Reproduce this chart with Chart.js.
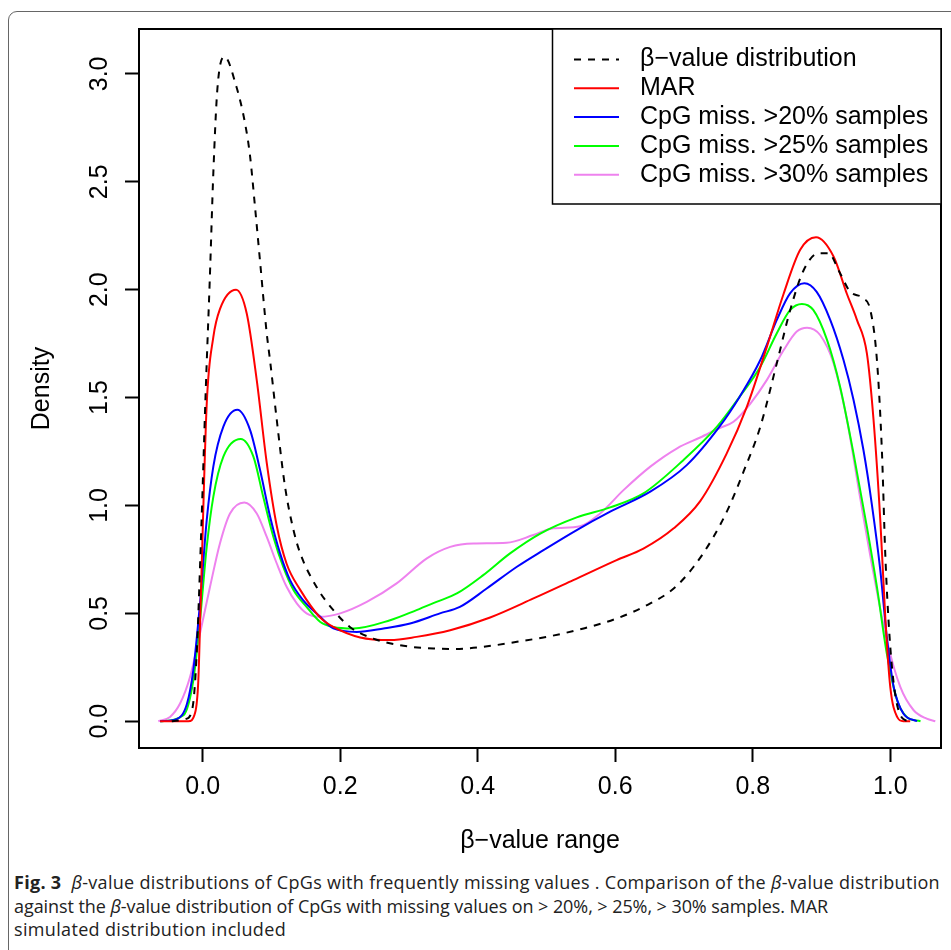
<!DOCTYPE html>
<html>
<head>
<meta charset="utf-8">
<script src="https://cdn.jsdelivr.net/npm/chart.js@4.4.1/dist/chart.umd.min.js"></script>
<style>
  body { margin: 0; background: #fff; width: 951px; height: 950px; overflow: hidden; position: relative; }
  #frame { position: absolute; left: 8px; top: 11px; width: 990px; height: 1000px; border: 1px solid #666; border-radius: 9px; }
  #wrap { position: absolute; left: 0; top: 0; width: 951px; height: 870px; }
  #caption { position: absolute; left: 14px; top: 871px; font-family: "Open Sans"; font-size: 18px; line-height: 23.5px; color: #222; white-space: nowrap; }
  #caption .ln { display: inline-block; }
</style>
</head>
<body>
<div id="frame"></div>
<div id="wrap"><canvas id="densityChart" width="951" height="870"></canvas></div>
<div id="caption">
  <span class="ln" data-w="926"><b>Fig. 3</b>&nbsp; <i>β</i>-value distributions of CpGs with frequently missing values . Comparison of the <i>β</i>-value distribution</span><br>
  <span class="ln" data-w="814">against the <i>β</i>-value distribution of CpGs with missing values on &gt; 20%, &gt; 25%, &gt; 30% samples. MAR</span><br>
  <span class="ln" data-w="272">simulated distribution included</span>
</div>
<script>
// axis ticks
const xTicks = [0, 0.2, 0.4, 0.6, 0.8, 1.0];
const yTicks = [0, 0.5, 1.0, 1.5, 2.0, 2.5, 3.0];

// beta-value distribution (dashed)
const betaX = [-0.045, -0.025, -0.015, -0.009, -0.002, 0.004, 0.0106, 0.0154, 0.0213, 0.0315, 0.049, 0.0616, 0.0688, 0.076, 0.0834, 0.093, 0.098, 0.1077, 0.1197, 0.132, 0.1416, 0.166, 0.19, 0.214, 0.248, 0.287, 0.3355, 0.3646, 0.408, 0.457, 0.505, 0.554, 0.602, 0.651, 0.685, 0.714, 0.743, 0.765, 0.787, 0.811, 0.835, 0.8545, 0.874, 0.8957, 0.91, 0.927, 0.9418, 0.961, 0.971, 0.9806, 0.988, 0.9927, 0.999, 1.007, 1.019, 1.03];
const betaY = [0, 0.01, 0.06, 0.3, 0.9, 1.5, 2.08, 2.54, 2.93, 3.08, 2.94, 2.77, 2.62, 2.385, 2.13, 1.8, 1.67, 1.396, 1.087, 0.886, 0.78, 0.62, 0.515, 0.437, 0.383, 0.352, 0.337, 0.335, 0.345, 0.368, 0.394, 0.43, 0.476, 0.546, 0.615, 0.716, 0.855, 0.99, 1.16, 1.365, 1.659, 1.906, 2.09, 2.169, 2.169, 2.076, 1.99, 1.96, 1.906, 1.674, 1.24, 0.778, 0.391, 0.128, 0.01, 0];

// MAR (red)
const marX = [-0.062, -0.021, -0.011, -0.0064, -0.003, 0.0058, 0.0154, 0.025, 0.0485, 0.064, 0.0786, 0.093, 0.108, 0.122, 0.1416, 0.171, 0.19, 0.229, 0.2725, 0.311, 0.36, 0.418, 0.481, 0.539, 0.602, 0.641, 0.685, 0.7236, 0.762, 0.7915, 0.8206, 0.8448, 0.869, 0.892, 0.9175, 0.937, 0.9515, 0.966, 0.9757, 0.9855, 0.993, 1.0, 1.01, 1.019, 1.029];
const marY = [0, 0, 0.04, 0.19, 0.55, 1.47, 1.78, 1.91, 2.0, 1.89, 1.58, 1.2, 0.9, 0.73, 0.61, 0.48, 0.437, 0.388, 0.376, 0.391, 0.422, 0.481, 0.569, 0.654, 0.747, 0.8, 0.894, 1.02, 1.24, 1.458, 1.736, 1.98, 2.185, 2.243, 2.154, 1.98, 1.86, 1.705, 1.396, 0.932, 0.468, 0.159, 0.02, 0, 0];

// CpG miss. >20% samples (blue)
const miss20X = [-0.062, -0.038, -0.023, -0.0137, -0.004, 0.0058, 0.0154, 0.03, 0.0504, 0.0688, 0.0834, 0.098, 0.1125, 0.127, 0.146, 0.171, 0.19, 0.224, 0.263, 0.3016, 0.345, 0.374, 0.413, 0.457, 0.4956, 0.544, 0.5926, 0.651, 0.704, 0.7527, 0.781, 0.811, 0.835, 0.8545, 0.875, 0.893, 0.9127, 0.932, 0.9466, 0.961, 0.973, 0.9855, 0.995, 1.005, 1.019, 1.039];
const miss20Y = [0, 0.01, 0.08, 0.237, 0.546, 0.932, 1.18, 1.365, 1.443, 1.35, 1.164, 0.948, 0.778, 0.654, 0.561, 0.484, 0.43, 0.414, 0.43, 0.453, 0.5, 0.53, 0.615, 0.716, 0.793, 0.886, 0.971, 1.064, 1.187, 1.37, 1.504, 1.674, 1.86, 1.984, 2.03, 1.99, 1.86, 1.674, 1.489, 1.257, 1.01, 0.7, 0.391, 0.159, 0.036, 0];

// CpG miss. >25% samples (green)
const miss25X = [-0.062, -0.028, -0.0137, -0.004, 0.0058, 0.0154, 0.03, 0.0553, 0.0737, 0.088, 0.1027, 0.117, 0.132, 0.151, 0.171, 0.19, 0.219, 0.2725, 0.311, 0.34, 0.3696, 0.408, 0.447, 0.491, 0.544, 0.5926, 0.641, 0.699, 0.748, 0.781, 0.811, 0.835, 0.8545, 0.8715, 0.888, 0.908, 0.927, 0.9466, 0.966, 0.9806, 0.995, 1.01, 1.024, 1.044];
const miss25Y = [0, 0.028, 0.19, 0.468, 0.808, 1.04, 1.226, 1.308, 1.226, 1.04, 0.855, 0.716, 0.608, 0.53, 0.46, 0.437, 0.43, 0.468, 0.515, 0.553, 0.592, 0.677, 0.778, 0.87, 0.945, 0.991, 1.056, 1.21, 1.365, 1.504, 1.643, 1.798, 1.906, 1.934, 1.906, 1.767, 1.55, 1.24, 0.901, 0.623, 0.314, 0.097, 0.02, 0];

// CpG miss. >30% samples (violet)
const miss30X = [-0.0646, -0.0476, -0.033, -0.0185, -0.004, 0.0106, 0.025, 0.0397, 0.0605, 0.0786, 0.093, 0.1077, 0.122, 0.1368, 0.151, 0.171, 0.2, 0.2386, 0.282, 0.326, 0.36, 0.394, 0.442, 0.481, 0.51, 0.549, 0.578, 0.612, 0.651, 0.69, 0.7236, 0.7527, 0.772, 0.796, 0.8206, 0.845, 0.864, 0.879, 0.898, 0.9175, 0.937, 0.956, 0.9757, 0.995, 1.0146, 1.034, 1.053, 1.0655];
const miss30Y = [0, 0.02, 0.082, 0.205, 0.407, 0.623, 0.824, 0.963, 1.014, 0.963, 0.855, 0.731, 0.623, 0.546, 0.5, 0.484, 0.5, 0.553, 0.639, 0.755, 0.808, 0.824, 0.827, 0.863, 0.894, 0.904, 0.963, 1.071, 1.18, 1.265, 1.315, 1.36, 1.388, 1.47, 1.582, 1.72, 1.806, 1.824, 1.79, 1.659, 1.396, 1.04, 0.685, 0.376, 0.159, 0.051, 0.012, 0];

const pts = (xs, ys) => xs.map((x, i) => ({ x: x, y: ys[i] }));

Chart.defaults.font.family = "Liberation Sans";
Chart.defaults.color = "#000";

// R-style box + legend inside the plot, top right
const boxAndLegend = {
  id: "boxAndLegend",
  afterDraw(chart) {
    const { ctx, chartArea: a } = chart;
    ctx.save();
    ctx.strokeStyle = "#000";
    ctx.lineWidth = 2;
    ctx.strokeRect(a.left, a.top, a.right - a.left, a.bottom - a.top);

    const lx = 552.5, lh = 175;
    ctx.lineWidth = 1.5;
    ctx.fillStyle = "#fff";
    ctx.fillRect(lx, a.top, a.right - lx, lh);
    ctx.strokeRect(lx, a.top, a.right - lx, lh);

    ctx.font = "25px 'Liberation Sans'";
    ctx.textBaseline = "middle";
    ctx.textAlign = "left";
    chart.data.datasets.forEach((ds, i) => {
      const y = a.top + 30.5 + i * 28.8;
      ctx.strokeStyle = ds.borderColor;
      ctx.lineWidth = 2;
      ctx.setLineDash(ds.borderDash || []);
      ctx.beginPath();
      ctx.moveTo(574, y);
      ctx.lineTo(619, y);
      ctx.stroke();
      ctx.setLineDash([]);
      ctx.fillStyle = "#000";
      ctx.fillText(ds.label, 640, y);
    });
    ctx.restore();
  }
};

const line = (label, xs, ys, color, dash) => ({
  label: label,
  data: pts(xs, ys),
  borderColor: color,
  borderWidth: 2,
  borderDash: dash,
  pointRadius: 0,
  fill: false,
  cubicInterpolationMode: "monotone"
});

new Chart(document.getElementById("densityChart"), {
  type: "line",
  data: {
    datasets: [
      line("β−value distribution", betaX, betaY, "#000000", [7, 7]),
      line("MAR", marX, marY, "#FF0000"),
      line("CpG miss. >20% samples", miss20X, miss20Y, "#0000FF"),
      line("CpG miss. >25% samples", miss25X, miss25Y, "#00FF00"),
      line("CpG miss. >30% samples", miss30X, miss30Y, "#EE82EE")
    ]
  },
  options: {
    responsive: false,
    animation: false,
    devicePixelRatio: 1,
    layout: { padding: { left: 0, top: 29, right: 10, bottom: 0 } },
    plugins: { legend: { display: false }, tooltip: { enabled: false } },
    scales: {
      x: {
        type: "linear",
        min: -0.0927,
        max: 1.0738,
        afterBuildTicks: s => { s.ticks = xTicks.map(v => ({ value: v })); },
        afterFit: s => { s.height = 122; },
        grid: { drawOnChartArea: false, tickLength: 14, tickWidth: 2, tickColor: "#000" },
        border: { display: false },
        ticks: { font: { size: 25 }, color: "#000", padding: 10, maxRotation: 0, autoSkip: false, callback: v => v.toFixed(1) },
        title: { display: true, text: "β−value range", font: { size: 25 }, color: "#000", padding: { top: 0, bottom: 14 } }
      },
      y: {
        type: "linear",
        min: -0.124,
        max: 3.208,
        afterBuildTicks: s => { s.ticks = yTicks.map(v => ({ value: v })); },
        afterFit: s => { s.width = 139; },
        grid: { drawOnChartArea: false, tickLength: 14, tickWidth: 2, tickColor: "#000" },
        border: { display: false },
        ticks: { font: { size: 25 }, color: "#000", padding: 8, minRotation: 90, maxRotation: 90, crossAlign: "center", autoSkip: false, callback: v => v.toFixed(1) },
        title: { display: true, text: "Density", font: { size: 25 }, color: "#000", padding: { top: 27, bottom: 0 } }
      }
    }
  },
  plugins: [boxAndLegend]
});

// stretch each caption line to its width in the figure
document.querySelectorAll("#caption .ln").forEach(el => {
  const target = +el.dataset.w;
  const w = el.getBoundingClientRect().width;
  el.style.letterSpacing = ((target - w) / el.textContent.length) + "px";
});
</script>
</body>
</html>
